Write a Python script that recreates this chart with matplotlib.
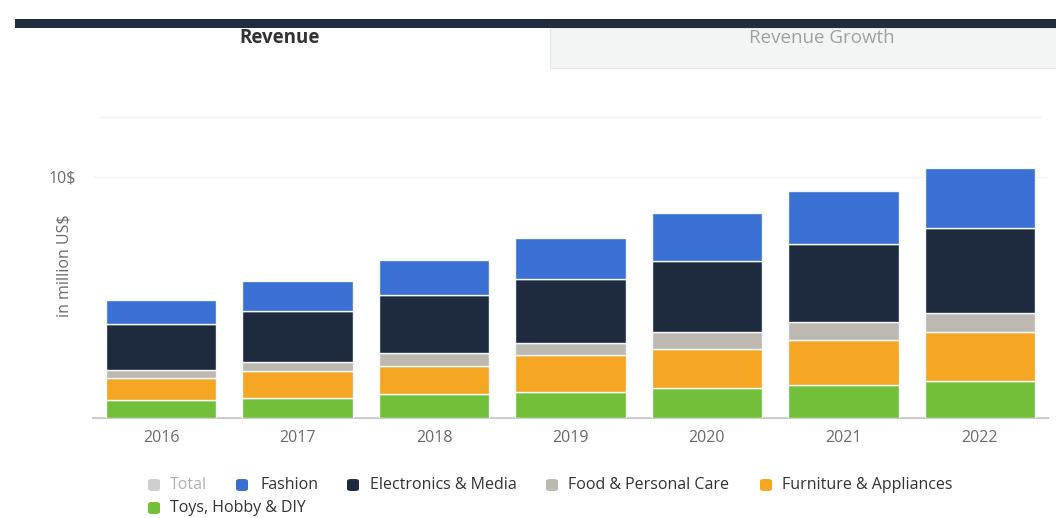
import matplotlib
matplotlib.use("Agg")
import matplotlib.pyplot as plt
from matplotlib.patches import Rectangle, FancyBboxPatch
import numpy as np

plt.rcParams['font.family'] = ['Open Sans', 'DejaVu Sans']

years = ['2016', '2017', '2018', '2019', '2020', '2021', '2022']
toys = [0.75, 0.83, 1.00, 1.08, 1.24, 1.37, 1.54]
furniture = [0.91, 1.12, 1.16, 1.54, 1.62, 1.87, 2.03]
food = [0.33, 0.39, 0.54, 0.50, 0.71, 0.75, 0.79]
electronics = [1.91, 2.12, 2.41, 2.66, 2.95, 3.24, 3.53]
fashion = [1.00, 1.24, 1.45, 1.70, 1.99, 2.20, 2.49]

series = [
    ('Toys, Hobby & DIY', toys, '#72bf3a'),
    ('Furniture & Appliances', furniture, '#f5a623'),
    ('Food & Personal Care', food, '#bdb9b1'),
    ('Electronics & Media', electronics, '#1e2b3e'),
    ('Fashion', fashion, '#3a6fd3'),
]
legend_items = [
    ('Total', '#cfcfcf', '#b0b0b0'),
    ('Fashion', '#3a6fd3', '#333333'),
    ('Electronics & Media', '#1e2b3e', '#333333'),
    ('Food & Personal Care', '#bdb9b1', '#333333'),
    ('Furniture & Appliances', '#f5a623', '#333333'),
    ('Toys, Hobby & DIY', '#72bf3a', '#333333'),
]
ytick_vals = [10]
ytick_labels = ['10$']

W, H = 1056, 518
fig = plt.figure(figsize=(W / 100, H / 100), dpi=100)

def fx(px):
    return px / W

def fy(py):
    return 1 - py / H

# Header tabs
fig.patches.append(Rectangle((fx(550), fy(68)), fx(1056 - 550), (68 - 28) / H,
                             transform=fig.transFigure, facecolor='#f3f4f4',
                             edgecolor='#e6e6e6', linewidth=0.8, zorder=0))
fig.patches.append(Rectangle((fx(15), fy(28)), fx(1056 - 15), (28 - 19) / H,
                             transform=fig.transFigure, facecolor='#1f2d3d',
                             edgecolor='none', zorder=1))
fig.text(fx(280), fy(38), 'Revenue', ha='center', va='center', fontsize=13.5,
         fontweight='bold', color='#333333')
fig.text(fx(822), fy(38), 'Revenue Growth', ha='center', va='center', fontsize=13.5,
         color='#a0a0a0')
fig.lines.append(plt.Line2D([fx(100), fx(1040)], [fy(117), fy(117)],
                            transform=fig.transFigure, color='#f7f7f7', linewidth=2))

# Axes
ax_left, ax_right = 93, 1048
ax_bottom, ax_top = 418, 150
ax = fig.add_axes([fx(ax_left), fy(ax_bottom), fx(ax_right - ax_left), (ax_bottom - ax_top) / H])

x = np.arange(len(years))
bottom = np.zeros(len(years))
for name, vals, color in series:
    ax.bar(x, vals, width=0.81, bottom=bottom, color=color, edgecolor='#f4f7fb',
           linewidth=1.0, zorder=3)
    bottom += np.array(vals)

ax.set_xlim(-0.5, len(years) - 0.5)
ax.set_ylim(0, 11.12)
ax.set_xticks(x)
ax.set_xticklabels(years, fontsize=11.5, color='#6a6a6a')
ax.set_yticks(ytick_vals)
ax.set_yticklabels(ytick_labels, fontsize=11.5, color='#6a6a6a')
ax.tick_params(axis='both', length=0)
ax.tick_params(axis='x', pad=9)
ax.tick_params(axis='y', pad=12)
ax.grid(axis='y', color='#f2f2f2', linewidth=1, zorder=0)
for s in ['top', 'right', 'left']:
    ax.spines[s].set_visible(False)
ax.spines['bottom'].set_color('#cccccc')
ax.spines['bottom'].set_linewidth(1.5)
ax.set_ylabel('in million US$', fontsize=11.5, color='#6a6a6a')
ax.yaxis.set_label_coords(-0.021, 0.57)

# Legend (manual)
row1 = [(148, 170), (236, 260), (347, 370), (546, 568), (760, 782)]
row2 = [(148, 170)]
positions = [(a, b, 485) for a, b in row1] + [(a, b, 508) for a, b in row2]
for (label, sq_color, txt_color), (sx, tx, cy) in zip(legend_items, positions):
    fig.patches.append(FancyBboxPatch((fx(sx), fy(cy + 6)), fx(12), 12 / H,
                                      boxstyle='round,pad=0,rounding_size=0.004',
                                      transform=fig.transFigure, facecolor=sq_color,
                                      edgecolor='none'))
    fig.text(fx(tx), fy(cy), label, ha='left', va='center', fontsize=11.5, color=txt_color)

fig.savefig('out.png', dpi=100, facecolor='white')
